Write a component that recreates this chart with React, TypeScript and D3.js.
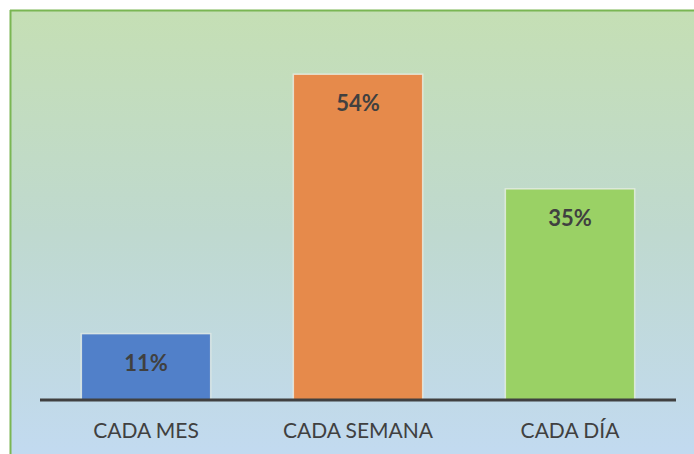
import React from 'react';
import * as d3 from 'd3';

const categories = ['CADA MES', 'CADA SEMANA', 'CADA DÍA'];
const values = [11, 54, 35];
const valueLabels = ['11%', '54%', '35%'];
const barColors = ['#5180c9', '#e68a4b', '#9ad165'];

const W = 694;
const H = 454;

export default function App() {
  const x = d3
    .scaleBand<string>()
    .domain(categories)
    .range([40, 676])
    .paddingInner(0.39)
    .paddingOuter(0.195);

  const y = d3.scaleLinear().domain([0, 60]).range([400, 38]);

  return (
    <svg
      width={W}
      height={H}
      style={{ position: 'absolute', left: 0, top: 0, display: 'block' }}
      fontFamily="Lato, 'Open Sans', sans-serif"
    >
      <defs>
        <linearGradient id="bg" x1="0" y1="0" x2="0" y2="1">
          <stop offset="0" stopColor="#c5dfb4" />
          <stop offset="0.5" stopColor="#bfd9cf" />
          <stop offset="1" stopColor="#c2daf0" />
        </linearGradient>
      </defs>
      <rect x={0} y={0} width={W} height={H} fill="#ffffff" />
      <rect x={10} y={10} width={W - 10} height={H - 10} fill="url(#bg)" />
      {/* frame, only left and top visible */}
      <line x1={10.5} y1={10} x2={10.5} y2={H} stroke="#7ab653" strokeWidth={2} />
      <line x1={10} y1={10.5} x2={W} y2={10.5} stroke="#7ab653" strokeWidth={2} />

      {categories.map((c, i) => (
        <g key={c}>
          <rect
            x={x(c)!}
            y={y(values[i])}
            width={x.bandwidth()}
            height={y(0) - y(values[i])}
            fill={barColors[i]}
            stroke="#e8efe6"
            strokeOpacity={0.8}
            strokeWidth={1.5}
          />
          <text
            x={x(c)! + x.bandwidth() / 2}
            y={y(values[i]) + 37}
            textAnchor="middle"
            fontSize={22}
            fontWeight="bold"
            fill="#404040"
          >
            {valueLabels[i]}
          </text>
          <text
            x={x(c)! + x.bandwidth() / 2}
            y={438}
            textAnchor="middle"
            fontSize={21}
            fill="#404040"
          >
            {c}
          </text>
        </g>
      ))}

      <line x1={40} x2={676} y1={y(0)} y2={y(0)} stroke="#404040" strokeWidth={3} />
    </svg>
  );
}
